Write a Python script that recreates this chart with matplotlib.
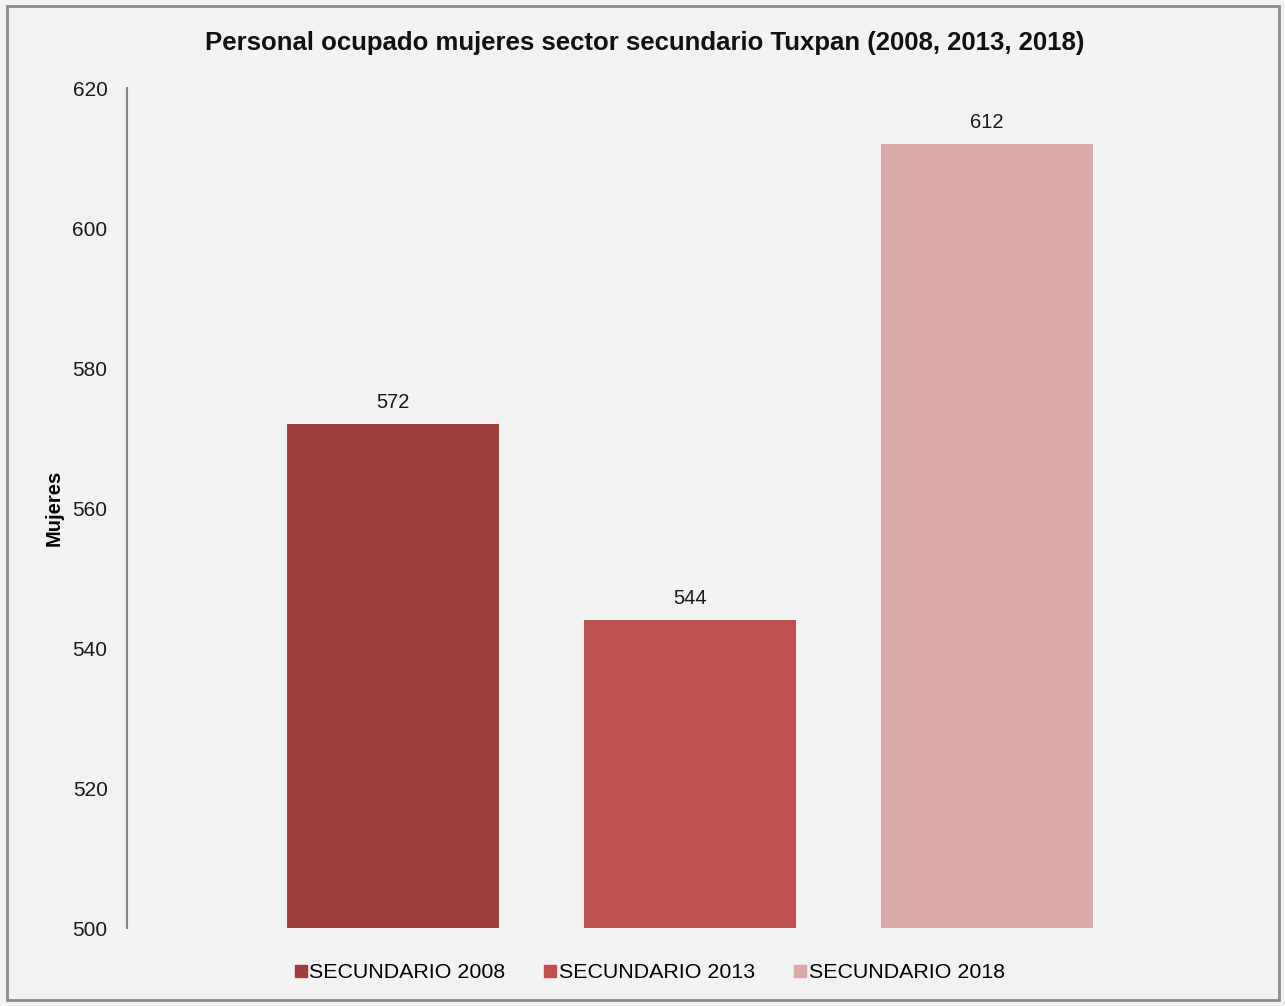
import matplotlib
matplotlib.use("Agg")
import matplotlib.pyplot as plt
from matplotlib.patches import Rectangle
from matplotlib.lines import Line2D

plt.rcParams["font.family"] = ["Liberation Sans", "DejaVu Sans"]

series = ["SECUNDARIO 2008", "SECUNDARIO 2013", "SECUNDARIO 2018"]
values = [572, 544, 612]
colors = ["#9e3f3d", "#c0504d", "#daa9a8"]
yticks = [500, 520, 540, 560, 580, 600, 620]

W, H = 1285, 1006
fig = plt.figure(figsize=(W / 100, H / 100), dpi=100, facecolor="#f2f2f2")

# outer chart border
fig.patches.append(Rectangle((7 / W, 1 - 1000 / H), (1279 - 7) / W, (1000 - 6) / H,
                             transform=fig.transFigure, fill=False,
                             edgecolor="#8c8c8c", linewidth=2))

ax = fig.add_axes([127 / W, 1 - 928 / H, (1253 - 127) / W, (928 - 88) / H])
ax.set_facecolor("#f2f2f2")

x = list(range(len(values)))
ax.bar(x, values, width=0.714, color=colors, label=series, zorder=2)
for xi, v in zip(x, values):
    ax.text(xi, v + 2.3, f"{v}", ha="center", va="baseline", fontsize=14.5, color="#1a1a1a")

ax.set_ylim(500, 620)
ax.set_xlim(-0.896, 2.896)
ax.set_yticks(yticks)
ax.set_yticklabels([str(t) for t in yticks], fontsize=15, color="#1a1a1a")
ax.tick_params(axis="y", length=0, pad=14)
ax.set_xticks([])
for s in ["top", "right", "bottom"]:
    ax.spines[s].set_visible(False)
ax.spines["left"].set_color("#868686")
ax.spines["left"].set_linewidth(1.5)

ax.set_ylabel("Mujeres", fontsize=14.5, fontweight="bold")
ax.yaxis.set_label_coords(-63 / (1253 - 127), 0.5)

fig.text(645 / W, 1 - 43 / H, "Personal ocupado mujeres sector secundario Tuxpan (2008, 2013, 2018)",
         ha="center", va="center", fontsize=18.5, fontweight="bold", color="#111111")

handles = [Line2D([], [], marker="s", linestyle="none", markersize=9,
                  markerfacecolor=c, markeredgecolor=c) for c in colors]
fig.legend(handles, series, loc="center", bbox_to_anchor=(649 / W, 1 - 973 / H),
           ncol=3, frameon=False, fontsize=15.4, handletextpad=0.05, columnspacing=1.75,
           handlelength=0.7)

fig.savefig("out.png", dpi=100, facecolor=fig.get_facecolor())
